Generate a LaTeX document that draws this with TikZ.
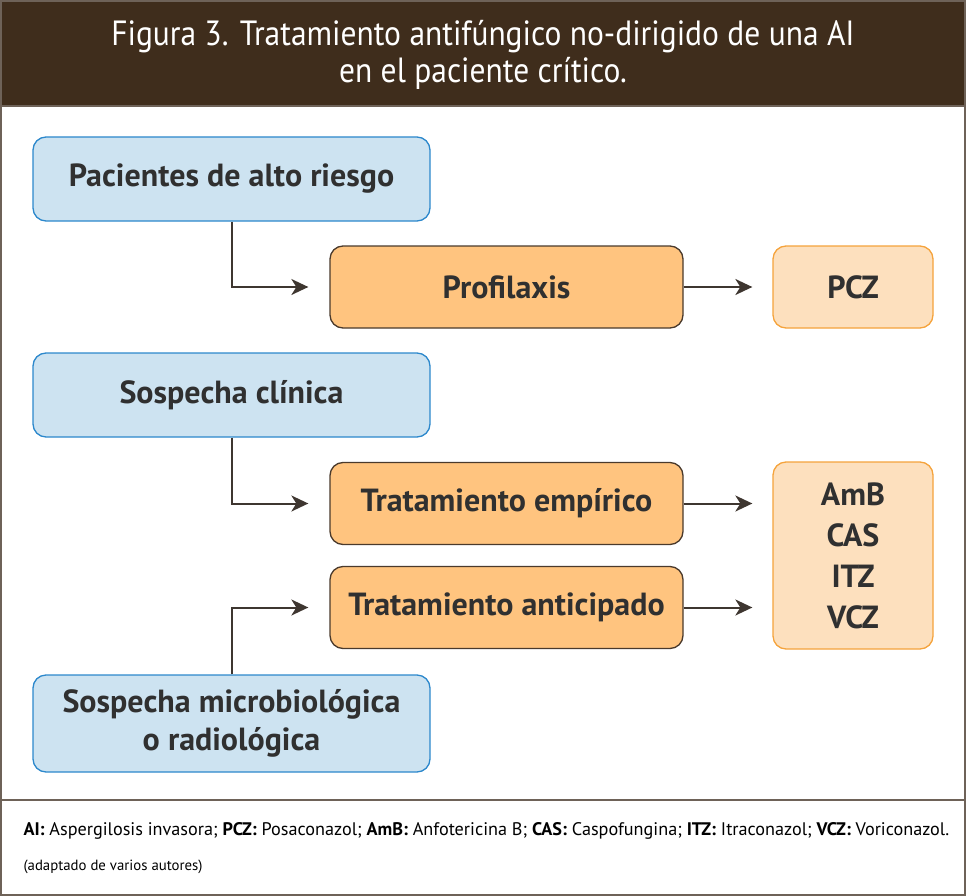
\documentclass[tikz,border=0pt]{standalone}
\usepackage{fontspec}
\setmainfont{PT Sans}
\newfontfamily\titlefont[FakeStretch=0.9]{PT Sans}
\usetikzlibrary{arrows.meta}
\definecolor{headbrown}{HTML}{3F2D1C}
\definecolor{framegray}{HTML}{6E6258}
\definecolor{bluefill}{HTML}{CDE3F1}
\definecolor{blueline}{HTML}{2C88CC}
\definecolor{orangefill}{HTML}{FFC47F}
\definecolor{orangeline}{HTML}{4A3A2C}
\definecolor{drugfill}{HTML}{FDE0BE}
\definecolor{drugline}{HTML}{F5A33C}
\definecolor{textgray}{HTML}{303030}
\definecolor{arrowgray}{HTML}{3E3630}
\begin{document}
\begin{tikzpicture}[x=1pt,y=-1pt,
  source/.style={draw=blueline,fill=bluefill,line width=1.3pt,rounded corners=13pt,
    minimum width=397pt,align=center,font=\fontsize{32}{38}\selectfont\bfseries,text=textgray},
  therapy/.style={draw=orangeline,fill=orangefill,line width=1.3pt,rounded corners=13pt,
    minimum width=353pt,minimum height=82pt,align=center,font=\fontsize{32}{38}\selectfont\bfseries,text=textgray},
  drug/.style={draw=drugline,fill=drugfill,line width=1.3pt,rounded corners=13pt,
    minimum width=160pt,align=center,font=\fontsize{32}{41}\selectfont\bfseries,text=textgray},
  edge/.style={-{Stealth[length=17pt,width=16pt,inset=5pt]},draw=arrowgray,line width=2pt}]
\useasboundingbox (0,0) rectangle (966,896);
% marco y cabecera
\fill[headbrown] (0,0) rectangle (966,106);
\draw[framegray,line width=2pt] (1,1) rectangle (965,895);
\draw[framegray,line width=1.5pt] (1,800) -- (965,800);
\draw[framegray,line width=2pt] (1,106) -- (965,106);
\node[text=white,font=\titlefont\fontsize{35}{37}\selectfont,align=center] (title) at (483,55)
  {Figura 3. Tratamiento antifúngico no-dirigido de una AI\\en el paciente crítico.};
% nodos
\node[source,minimum height=84pt] (riesgo) at (231.5,179) {Pacientes de alto riesgo};
\node[therapy] (prof) at (506.5,287) {Profilaxis};
\node[drug,minimum height=82pt] (pcz) at (853,287) {PCZ};
\node[source,minimum height=84pt] (clinica) at (231.5,395) {Sospecha clínica};
\node[therapy] (emp) at (506.5,503.5) {Tratamiento empírico};
\node[therapy] (antic) at (506.5,607.5) {Tratamiento anticipado};
\node[drug,minimum height=187pt] (farmacos) at (853,555.5) {AmB\\CAS\\ITZ\\VCZ};
\node[source,minimum height=97pt] (micro) at (231.5,723.5) {Sospecha microbiológica\\o radiológica};
% flechas
\draw[edge,shorten >=21pt] (riesgo.south) |- (prof.west);
\draw[edge,shorten >=20pt] (prof.east) -- (pcz.west);
\draw[edge,shorten >=21pt] (clinica.south) |- (emp.west);
\draw[edge,shorten >=20pt] (emp.east) -- (emp.east -| farmacos.west);
\draw[edge,shorten >=20pt] (antic.east) -- (antic.east -| farmacos.west);
\draw[edge,shorten >=21pt] (micro.north) |- (antic.west);
% leyenda
\node[anchor=west,font=\fontsize{18.2}{20}\selectfont,text=black] (leyenda) at (20,831)
  {\textbf{AI:} Aspergilosis invasora; \textbf{PCZ:} Posaconazol; \textbf{AmB:} Anfotericina B; \textbf{CAS:} Caspofungina; \textbf{ITZ:} Itraconazol; \textbf{VCZ:} Voriconazol.};
\node[anchor=west,font=\fontsize{14.8}{16}\selectfont,text=black] (fuente) at (20,867)
  {(adaptado de varios autores)};
\end{tikzpicture}
\end{document}
